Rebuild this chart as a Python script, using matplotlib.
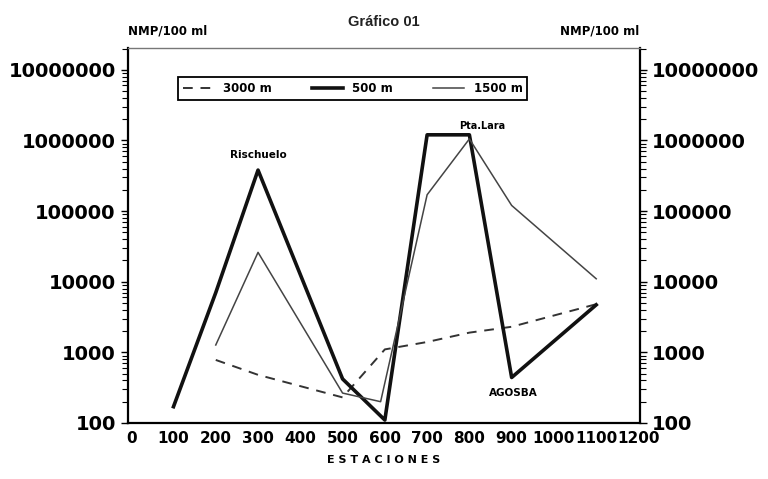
import matplotlib
matplotlib.use("Agg")
import matplotlib.pyplot as plt

# station positions and NMP/100 ml counts
x_3000 = [200, 300, 500, 600, 700, 800, 900, 1100]
y_3000 = [780, 480, 230, 1100, 1400, 1900, 2300, 4800]

x_500 = [100, 200, 300, 500, 600, 700, 800, 900, 1100]
y_500 = [170, 7000, 380000, 420, 110, 1200000, 1200000, 440, 4700]

x_1500 = [200, 300, 500, 590, 700, 800, 900, 1100]
y_1500 = [1270, 26000, 265, 200, 170000, 1050000, 120000, 11000]

x_ticks = list(range(0, 1300, 100))
y_ticks = [100, 1000, 10000, 100000, 1000000, 10000000]

BOLD = dict(family="DejaVu Sans", weight="bold")

fig = plt.figure(figsize=(7.68, 4.79), dpi=100)
ax = fig.add_axes([0.167, 0.117, 0.666, 0.783])

l1, = ax.plot(x_3000, y_3000, ls=(0, (5, 4)), color="#333333", lw=1.4, label="3000 m")
l2, = ax.plot(x_500, y_500, color="#111111", lw=2.6, label="500 m")
l3, = ax.plot(x_1500, y_1500, color="#444444", lw=1.1, label="1500 m")

ax.set_yscale("log")
ax.set_ylim(100, 2.04e7)
ax.set_xlim(-7, 1203)
ax.set_xticks(x_ticks)
ax.set_xticklabels([str(v) for v in x_ticks], fontsize=11, **BOLD)
ax.tick_params(axis="x", length=0, pad=6)
ax.set_yticks(y_ticks)
ax.set_yticklabels([str(v) for v in y_ticks], fontsize=14, **BOLD)
ax.tick_params(axis="y", which="both", left=True, right=True,
               labelleft=True, labelright=True, direction="out")
ax.tick_params(axis="y", which="major", length=5, width=1, pad=4)
ax.tick_params(axis="y", which="minor", length=4, width=0.8)

for s in ["left", "right", "bottom"]:
    ax.spines[s].set_linewidth(1.6)
ax.spines["top"].set_linewidth(1.0)
ax.spines["top"].set_color("#777777")

ax.set_xlabel("E S T A C I O N E S", fontsize=8, labelpad=6, **BOLD)

fig.text(0.5, 0.955, "Gráfico 01", ha="center", va="center", fontsize=10.5,
         family="Liberation Sans", weight="bold", color="#222222")
fig.text(0.167, 0.935, "NMP/100 ml", ha="left", va="center", fontsize=8.5, **BOLD)
fig.text(0.833, 0.935, "NMP/100 ml", ha="right", va="center", fontsize=8.5, **BOLD)

ax.text(300, 6.3e5, "Rischuelo", ha="center", va="center", fontsize=7.5, **BOLD)
ax.text(830, 1.35e6, "Pta.Lara", ha="center", va="bottom", fontsize=7, **BOLD)
ax.text(905, 265, "AGOSBA", ha="center", va="center", fontsize=7.5, **BOLD)

leg = ax.legend(handles=[l1, l2, l3], loc="center", ncol=3, mode="expand",
                bbox_to_anchor=(0.098, 0.848, 0.682, 0.088), fancybox=False,
                edgecolor="black", framealpha=1, handlelength=2.6,
                prop=dict(family="DejaVu Sans", weight="bold", size=8.5),
                borderaxespad=0)
leg.get_frame().set_linewidth(1.3)

fig.savefig("out.png", dpi=100)
